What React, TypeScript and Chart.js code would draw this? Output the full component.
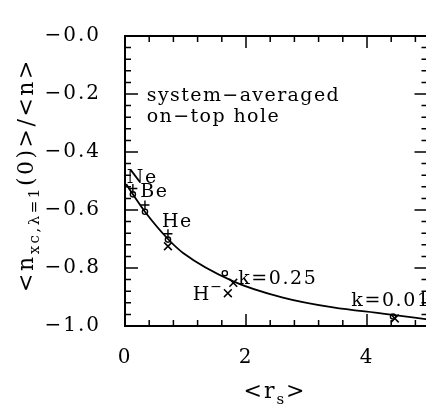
import React, { useEffect, useRef } from "react";
import { Chart, registerables } from "chart.js";

Chart.register(...registerables);

// ---- data ----
const curveX = [0.02, 0.13, 0.33, 0.71, 0.96, 1.79, 2.61, 3.44, 4.26, 5.0];
const curveY = [-0.51, -0.546, -0.606, -0.7, -0.748, -0.846, -0.902, -0.936, -0.957, -0.977];

const plusX = [0.13, 0.33, 0.71];
const plusY = [-0.526, -0.583, -0.682];

const circleX = [0.13, 0.33, 0.71, 1.65, 4.43];
const circleY = [-0.546, -0.606, -0.702, -0.818, -0.967];

const crossX = [0.71, 1.7, 1.79, 4.46];
const crossY = [-0.725, -0.887, -0.851, -0.974];

const xTicks = [0, 2, 4];
const yTicks = [0, -0.2, -0.4, -0.6, -0.8, -1.0];
const xMinorStep = 0.4;
const yMinorStep = 0.04;

const annoText = ["system\u2212averaged", "on\u2212top hole", "Ne", "Be", "He", "k=0.25", "k=0.01"];
const annoX = [0.36, 0.36, 0.03, 0.25, 0.61, 1.87, 3.74];
const annoY = [-0.225, -0.295, -0.507, -0.556, -0.659, -0.854, -0.93];

const SERIF = "'DejaVu Serif', serif";

type Seg = { t: string; size: number; dy: number };

function segWidth(ctx: CanvasRenderingContext2D, segs: Seg[], spacing: number) {
  let w = 0;
  for (const s of segs) {
    ctx.font = `${s.size}px ${SERIF}`;
    (ctx as any).letterSpacing = `${spacing}px`;
    w += ctx.measureText(s.t).width;
  }
  return w;
}

function drawSegs(ctx: CanvasRenderingContext2D, segs: Seg[], x: number, y: number, spacing: number) {
  let cx = x;
  for (const s of segs) {
    ctx.font = `${s.size}px ${SERIF}`;
    (ctx as any).letterSpacing = `${spacing}px`;
    ctx.fillText(s.t, cx, y + s.dy);
    cx += ctx.measureText(s.t).width;
  }
}

const framePlugin = {
  id: "frame",
  beforeDraw(chart: any) {
    (chart.ctx as any).letterSpacing = "2px";
  },
  afterDraw(chart: any) {
    const ctx: CanvasRenderingContext2D = chart.ctx;
    const { left, right, top, bottom } = chart.chartArea;
    const xs = chart.scales.x;
    const ys = chart.scales.y;
    ctx.save();
    ctx.strokeStyle = "#000";
    ctx.fillStyle = "#000";
    // frame
    ctx.lineWidth = 2;
    ctx.strokeRect(left, top, right - left, bottom - top);
    // inward ticks
    ctx.lineWidth = 1.5;
    ctx.beginPath();
    for (let i = 0; i <= Math.round(5 / xMinorStep); i++) {
      const v = i * xMinorStep;
      const major = Math.abs(v / 2 - Math.round(v / 2)) < 1e-6;
      const len = major ? 12 : 6;
      const px = xs.getPixelForValue(v);
      ctx.moveTo(px, bottom);
      ctx.lineTo(px, bottom - len);
      ctx.moveTo(px, top);
      ctx.lineTo(px, top + len);
    }
    for (let i = 0; i <= Math.round(1 / yMinorStep); i++) {
      const v = -i * yMinorStep;
      const major = Math.abs(v / 0.2 - Math.round(v / 0.2)) < 1e-6;
      const len = major ? 13 : 6;
      const py = ys.getPixelForValue(v);
      ctx.moveTo(left, py);
      ctx.lineTo(left + len, py);
      ctx.moveTo(right, py);
      ctx.lineTo(right - len, py);
    }
    ctx.stroke();

    // annotations
    ctx.textBaseline = "alphabetic";
    ctx.textAlign = "left";
    for (let i = 0; i < annoText.length; i++) {
      ctx.font = `19px ${SERIF}`;
      (ctx as any).letterSpacing = i < 2 ? "1.4px" : "1.6px";
      ctx.fillText(annoText[i], xs.getPixelForValue(annoX[i]), ys.getPixelForValue(annoY[i]));
    }
    // H^- label
    const hx = xs.getPixelForValue(1.12);
    const hy = ys.getPixelForValue(-0.911);
    ctx.font = `19px ${SERIF}`;
    (ctx as any).letterSpacing = "1px";
    ctx.fillText("H", hx, hy);
    const hw = ctx.measureText("H").width;
    ctx.font = `14px ${SERIF}`;
    ctx.fillText("\u2212", hx + hw, hy - 9);

    // x title
    const xSegs: Seg[] = [
      { t: "<r", size: 22, dy: 0 },
      { t: "s", size: 15, dy: 6 },
      { t: ">", size: 22, dy: 0 },
    ];
    const xw = segWidth(ctx, xSegs, 2);
    drawSegs(ctx, xSegs, 275 - xw / 2, 398, 2);

    // y title (rotated)
    const ySegs: Seg[] = [
      { t: "<n", size: 22, dy: 0 },
      { t: "xc,\u03bb=1", size: 15, dy: 6 },
      { t: "(0)>/<n>", size: 22, dy: 0 },
    ];
    const yw = segWidth(ctx, ySegs, 2.5);
    ctx.translate(33, 175);
    ctx.rotate(-Math.PI / 2);
    drawSegs(ctx, ySegs, -yw / 2, 0, 2.5);
    ctx.restore();
    (ctx as any).letterSpacing = "0px";
  },
};

export default function App() {
  const ref = useRef<HTMLCanvasElement>(null);
  useEffect(() => {
    const canvas = ref.current!;
    const tickFont = { family: SERIF, size: 20 };
    const chart = new Chart(canvas, {
      type: "scatter",
      data: {
        datasets: [
          {
            type: "line",
            data: curveX.map((x, i) => ({ x, y: curveY[i] })),
            borderColor: "#000",
            borderWidth: 1.8,
            pointRadius: 0,
            cubicInterpolationMode: "monotone",
            fill: false,
          } as any,
          {
            data: plusX.map((x, i) => ({ x, y: plusY[i] })),
            pointStyle: "cross",
            pointRadius: 4.5,
            borderColor: "#000",
            borderWidth: 1.4,
            backgroundColor: "rgba(0,0,0,0)",
          },
          {
            data: circleX.map((x, i) => ({ x, y: circleY[i] })),
            pointStyle: "circle",
            pointRadius: 2.6,
            borderColor: "#000",
            borderWidth: 1.4,
            backgroundColor: "rgba(0,0,0,0)",
          },
          {
            data: crossX.map((x, i) => ({ x, y: crossY[i] })),
            pointStyle: "crossRot",
            pointRadius: 5.5,
            borderColor: "#000",
            borderWidth: 1.5,
            backgroundColor: "rgba(0,0,0,0)",
          },
        ],
      },
      options: {
        responsive: false,
        animation: false,
        layout: { autoPadding: false, padding: { top: 24, right: 12.5, left: 0, bottom: 0 } },
        plugins: { legend: { display: false }, tooltip: { enabled: false } },
        scales: {
          x: {
            type: "linear",
            min: 0,
            max: 5,
            afterBuildTicks: (s: any) => {
              s.ticks = xTicks.map((v) => ({ value: v }));
            },
            afterFit: (s: any) => {
              s.height = 81;
            },
            ticks: {
              font: tickFont,
              color: "#000",
              padding: 20,
              maxRotation: 0,
              autoSkip: false,
              callback: (v: any) => String(v),
            },
            grid: { display: false, drawTicks: false },
            border: { display: false },
          },
          y: {
            type: "linear",
            min: -1,
            max: 0,
            afterBuildTicks: (s: any) => {
              s.ticks = yTicks.map((v) => ({ value: v }));
            },
            afterFit: (s: any) => {
              s.width = 125;
            },
            ticks: {
              font: tickFont,
              color: "#000",
              padding: 24,
              autoSkip: false,
              callback: (v: any) => "\u2212" + Math.abs(Number(v)).toFixed(1),
            },
            grid: { display: false, drawTicks: false },
            border: { display: false },
          },
        },
      },
      plugins: [framePlugin],
    } as any);
    return () => chart.destroy();
  }, []);
  return (
    <div
      style={{
        position: "fixed",
        left: 0,
        top: 0,
        width: 426,
        height: 407,
        overflow: "hidden",
        background: "#fff",
      }}
    >
      <canvas ref={ref} width={440} height={407} style={{ display: "block", width: 440, height: 407 }} />
    </div>
  );
}
